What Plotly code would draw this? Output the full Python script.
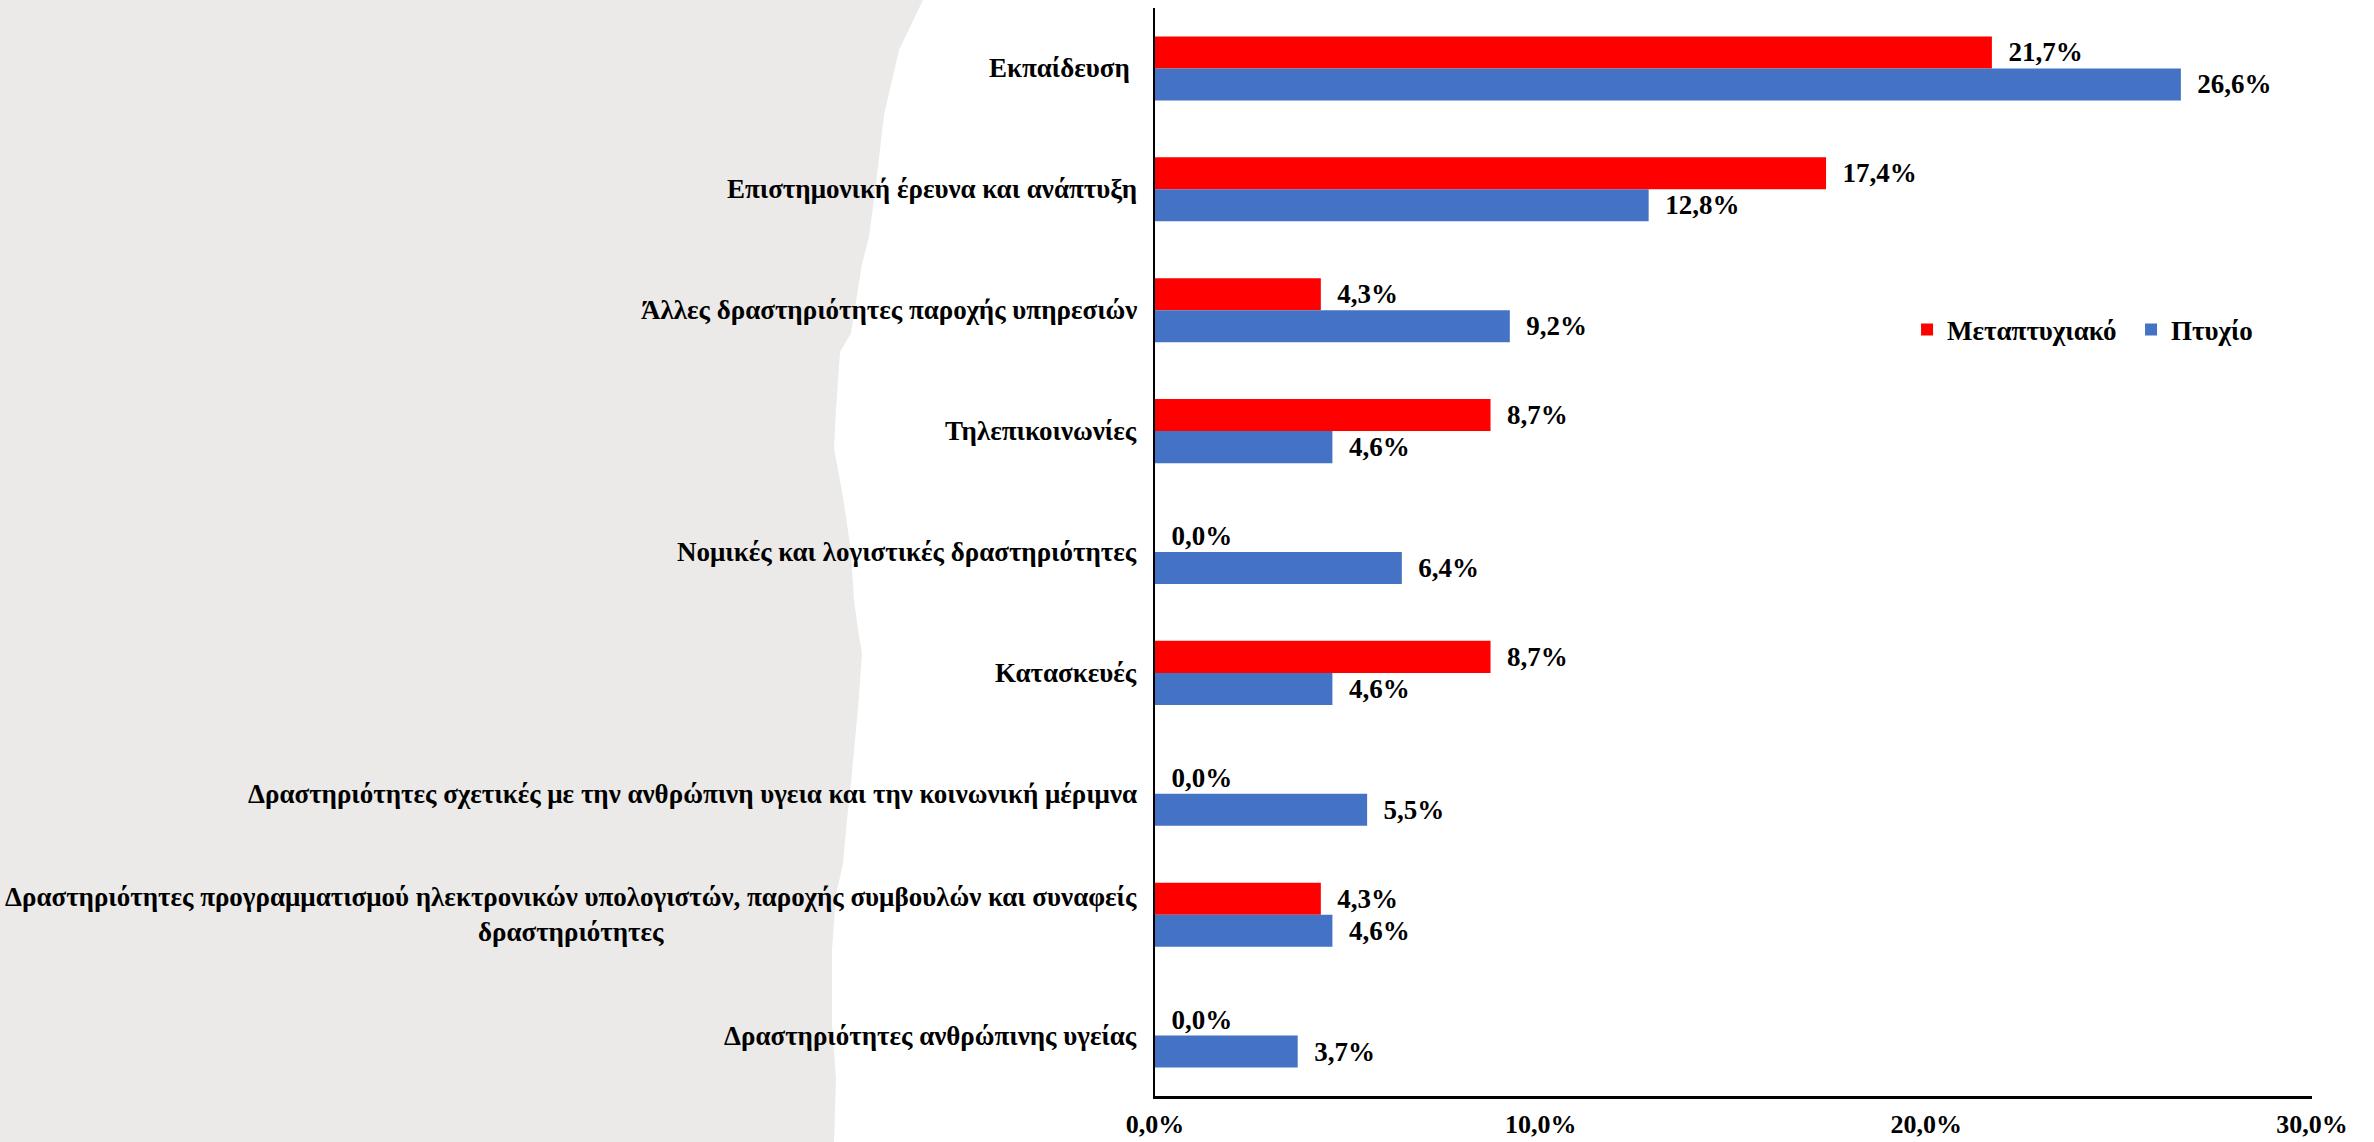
import plotly.graph_objects as go

# ---------------- data ----------------
categories = [
    "Εκπαίδευση ",
    "Επιστημονική έρευνα και ανάπτυξη",
    "Άλλες δραστηριότητες παροχής υπηρεσιών",
    "Τηλεπικοινωνίες",
    "Νομικές και λογιστικές δραστηριότητες",
    "Κατασκευές",
    "Δραστηριότητες σχετικές με την ανθρώπινη υγεια και την κοινωνική μέριμνα",
    "Δραστηριότητες προγραμματισμού ηλεκτρονικών υπολογιστών, παροχής συμβουλών και συναφείς<br>δραστηριότητες",
    "Δραστηριότητες ανθρώπινης υγείας",
]
series_names = ["Μεταπτυχιακό", "Πτυχίο"]
postgrad = [21.7, 17.4, 4.3, 8.7, 0.0, 8.7, 0.0, 4.3, 0.0]
degree = [26.6, 12.8, 9.2, 4.6, 6.4, 4.6, 5.5, 4.6, 3.7]
tick_vals = [0, 10, 20, 30]
tick_text = ["0,0%", "10,0%", "20,0%", "30,0%"]

# ---------------- style ----------------
W, H = 2374, 1142
ML, MR, MT, MB = 1155, 62, 8, 46
PW, PH = W - ML - MR, H - MT - MB
FONT = "Liberation Serif, Tinos, Times New Roman, serif"
FS = 27
FS_TICK = 26
colors = ["#FF0000", "#4472C4"]

def fmt(v):
    return "\u00a0\u00a0" + f"{v:.1f}".replace(".", ",") + "%"

ykeys = [c.replace("<br>", " ") for c in categories]

fig = go.Figure()
for name, vals, col in zip(series_names, [postgrad, degree], colors):
    fig.add_trace(go.Bar(
        y=ykeys, x=vals, name=name, orientation="h",
        marker=dict(color=col, line=dict(width=0)),
        text=[fmt(v) for v in vals], textposition="outside",
        constraintext="none", cliponaxis=False,
        textfont=dict(family=FONT, size=FS, color="black", weight="bold"),
    ))

# background torn-paper shape (pixel outline -> paper coords)
edge_px = [(923, 0), (899, 50), (884, 115), (876, 184), (869, 237), (862, 264),
           (851, 333), (840, 352), (836, 410), (834, 448), (843, 497), (851, 551),
           (854, 600), (858, 630), (862, 653), (858, 708), (851, 783), (847, 820),
           (843, 864), (836, 894), (832, 950), (832, 1024), (836, 1080), (834, 1142)]
def to_paper(px, py):
    return (px - ML) / PW, 1 - (py - MT) / PH
pts = [(0, 0)] + edge_px + [(0, H)]
path = "M " + " L ".join("%.5f,%.5f" % to_paper(x, y) for x, y in pts) + " Z"
fig.add_shape(type="path", path=path, xref="paper", yref="paper",
              fillcolor="#EBEAE8", line=dict(width=0), layer="below")

# category labels (centered multi-line, right aligned to axis)
for i, c in enumerate(categories):
    fig.add_annotation(x=0, xref="paper", y=ykeys[i], yref="y", text=c,
                       showarrow=False, xanchor="right", yanchor="middle", align="center",
                       xshift=-16, font=dict(family=FONT, size=FS, color="black", weight="bold"))

fig.update_layout(
    width=W, height=H,
    margin=dict(l=ML, r=MR, t=MT, b=MB, autoexpand=False),
    paper_bgcolor="white", plot_bgcolor="rgba(0,0,0,0)",
    barmode="group", bargap=0.47, bargroupgap=0,
    font=dict(family=FONT, size=FS, color="black"),
    showlegend=True,
    legend=dict(orientation="h", x=0.650, y=0.704, xanchor="left", yanchor="middle",
                entrywidth=179,
                font=dict(family=FONT, size=FS, color="black", weight="bold"),
                bgcolor="rgba(0,0,0,0)", itemclick=False),
    xaxis=dict(range=[0, 30], tickvals=tick_vals, ticktext=tick_text, automargin=False,
               showgrid=False, zeroline=False, showline=True, linecolor="black",
               linewidth=3, ticks="", ticklabelstandoff=3,
               tickfont=dict(family=FONT, size=FS_TICK, color="black", weight="bold")),
    yaxis=dict(categoryorder="array", categoryarray=ykeys, autorange="reversed",
               automargin=False,
               showticklabels=False, showgrid=False, zeroline=False,
               showline=True, linecolor="black", linewidth=2, ticks=""),
)

fig.write_html("out.html", config={"displayModeBar": False},
               post_script="document.body.style.margin='0';document.body.style.overflow='hidden';")
